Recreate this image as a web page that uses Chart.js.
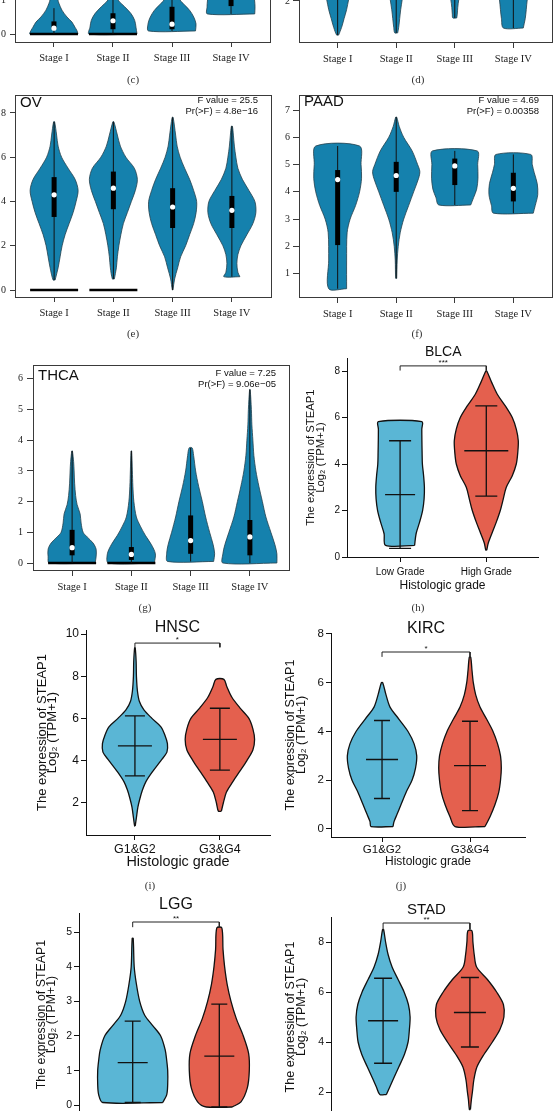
<!DOCTYPE html>
<html lang="en">
<head>
<meta charset="UTF-8">
<title>STEAP1 expression by stage and histologic grade</title>
<script src="https://cdn.jsdelivr.net/npm/chart.js"></script>
<style>
  body { margin: 0; background: #fff; }
  #page { position: relative; width: 556px; height: 1111px; overflow: hidden; background: #fff; }
  #page canvas { position: absolute; }
  .cap {
    position: absolute;
    font-family: "Liberation Serif", serif;
    font-size: 11px;
    color: #333;
    transform: translate(-50%, -50%);
    will-change: transform;
  }
</style>
</head>
<body>
<div id="page">
  <div class="cap" style="left:133px;top:79px">(c)</div>
  <div class="cap" style="left:418px;top:79px">(d)</div>
  <div class="cap" style="left:133px;top:333px">(e)</div>
  <div class="cap" style="left:417px;top:333px">(f)</div>
  <div class="cap" style="left:145px;top:607px">(g)</div>
  <div class="cap" style="left:418px;top:607px">(h)</div>
  <div class="cap" style="left:150px;top:885px">(i)</div>
  <div class="cap" style="left:401px;top:885px">(j)</div>
</div>

<script>
// ---- categories ----
const stages = ['Stage I', 'Stage II', 'Stage III', 'Stage IV'];
const gradesBLCA = ['Low Grade', 'High Grade'];
const gradesG = ['G1&G2', 'G3&G4'];
const gradesLGG = ['G2', 'G3'];
const gradesSTAD = ['G1&G2', 'G3'];

// ---- (c) only the bottom of this panel is visible ----
const cLevels = [
  [0, 0.1, 0.2, 0.35, 0.5, 0.7, 0.9, 1.0, 1.3, 1.7, 2.2],
  [0, 0.2, 0.4, 0.6, 0.8, 1.0, 1.2, 1.5, 2.0],
  [0.09, 0.3, 0.5, 0.7, 0.9, 1.0, 1.2, 1.5, 2.0],
  [0.59, 0.8, 1.0, 1.3, 1.6, 2.0, 2.5, 3.0, 3.5]
];
const cDensity = [
  [24, 23, 21, 18, 13, 8, 5, 4, 3, 2, 0.5],
  [24, 23, 21.7, 18, 11.7, 5, 3, 2, 0.5],
  [23.5, 24, 21.7, 17.5, 11, 8, 5, 3, 0.5],
  [23.7, 24, 23.5, 22, 18, 12, 6, 2, 0.5]
];
const cWhiskLo = [0, 0, 0.09, 0.59];
const cWhiskHi = [0.76, 1.5, 1.5, 2.5];
const cQ1 = [0.14, 0.14, 0.14, 0.82];
const cMedian = [0.17, 0.39, 0.29, 1.12];
const cQ3 = [0.37, 0.61, 0.8, 1.5];
const cZeroBar = [24, 24, 0, 0];

// ---- (d) only the bottom of this panel is visible ----
const dLevels = [
  [0.45, 0.8, 1.2, 1.6, 2.05, 2.5, 3, 4, 5, 6, 7],
  [0.55, 0.8, 1.2, 1.6, 2.05, 2.5, 3, 4, 5, 6, 7],
  [1.23, 1.4, 1.7, 2.05, 2.5, 3, 4, 5, 6, 7],
  [0.77, 1.2, 1.6, 2.05, 2.5, 3, 4, 5, 6, 7]
];
const dDensity = [
  [1, 4, 6.5, 9, 11, 13, 15, 16, 12, 5, 0.5],
  [1.5, 2.5, 3.5, 4.5, 6, 7.5, 9, 12, 10, 5, 0.5],
  [2, 2.5, 3, 4, 6, 9, 14, 12, 6, 0.5],
  [10, 12, 13, 14, 16, 19, 20, 14, 6, 0.5]
];
const dWhiskLo = [0.45, 0.55, 1.23, 0.77];
const dWhiskHi = [6, 6, 6, 6];
const dQ1 = [3, 3.2, 3.5, 3.3];
const dMedian = [3.6, 3.8, 4.1, 3.9];
const dQ3 = [4.3, 4.5, 4.7, 4.5];
const dZeroBar = [0, 0, 0, 0];

// ---- (e) OV ----
const ovLevels = [
  [0.45, 1, 1.5, 2, 2.5, 3, 3.5, 4, 4.5, 5, 5.5, 6, 6.5, 7, 7.6],
  [0.5, 1, 1.5, 2, 2.5, 3, 3.5, 4, 4.5, 5, 5.5, 6, 6.5, 7, 7.6],
  [0, 0.5, 1, 1.5, 2, 2.5, 3, 3.5, 4, 4.5, 5, 5.5, 6, 6.5, 7, 7.8],
  [0.6, 0.8, 1.2, 1.6, 2, 2.5, 3, 3.5, 4, 4.5, 5, 5.5, 6, 6.5, 7, 7.4]
];
const ovDensity = [
  [1, 4, 6, 8, 11, 15, 19, 22, 24, 21, 14, 7.5, 4, 2.5, 0.5],
  [1, 3, 4, 5.5, 7.5, 10, 14, 18, 22, 24, 21, 12.5, 7, 4, 0.5],
  [0.3, 2, 5, 8, 13, 17, 21, 23.5, 24, 21, 17, 12, 7.5, 4.5, 3, 0.5],
  [8, 6, 5, 6, 9, 15, 21, 24, 23, 17, 10.5, 6, 4, 2.5, 1.5, 0.5]
];
const ovWhiskLo = [0.45, 0.5, 0, 0.6];
const ovWhiskHi = [7.6, 7.6, 7.8, 7.4];
const ovQ1 = [3.3, 3.65, 2.8, 2.8];
const ovMedian = [4.3, 4.6, 3.75, 3.6];
const ovQ3 = [5.1, 5.35, 4.6, 4.25];
const ovZeroBar = [24, 24, 0, 0];

// ---- (f) PAAD ----
const paadLevels = [
  [0.45, 1.5, 2.5, 3, 3.5, 4, 4.5, 5, 5.68],
  [0.83, 1.5, 2, 2.5, 3, 3.5, 4, 4.5, 4.75, 5, 5.5, 6, 6.4, 6.74],
  [3.52, 3.8, 4.1, 4.5, 5, 5.5],
  [3.22, 3.5, 3.9, 4.3, 4.7, 5.0, 5.37]
];
const paadDensity = [
  [9, 9, 9.5, 12.5, 18, 22, 24, 23.5, 22],
  [0.5, 1, 2, 4, 7.5, 12.5, 17.5, 22.5, 23.7, 21.5, 16, 7.5, 3, 0.5],
  [16, 19, 22, 23.3, 23, 22.5],
  [20, 22, 24.5, 24, 21, 19, 17.5]
];
const paadWhiskLo = [0.45, 0.83, 3.52, 3.22];
const paadWhiskHi = [5.68, 6.74, 5.5, 5.37];
const paadQ1 = [2.05, 4.0, 4.25, 3.65];
const paadMedian = [4.45, 4.6, 4.95, 4.13];
const paadQ3 = [4.8, 5.1, 5.22, 4.7];
const paadZeroBar = [0, 0, 0, 0];

// ---- (g) THCA ----
const thcaLevels = [
  [0, 0.2, 0.45, 0.65, 0.85, 1.0, 1.3, 1.6, 1.9, 2.2, 2.6, 3.0, 3.3, 3.65],
  [0, 0.3, 0.6, 0.9, 1.2, 1.5, 2.0, 2.5, 3.0, 3.65],
  [0.05, 0.3, 0.6, 1.0, 1.5, 2.0, 2.5, 3.0, 3.5, 3.75],
  [0, 0.3, 0.6, 1.0, 1.5, 2.0, 2.5, 3.0, 3.5, 4.0, 4.5, 5.0, 5.65]
];
const thcaDensity = [
  [23, 24, 24, 21, 15, 11, 9, 8, 5, 3.5, 2.5, 2, 1.5, 0.3],
  [23, 24, 20, 14, 9, 5, 2.5, 1.5, 1, 0.3],
  [23, 24, 22.5, 19, 15, 11.7, 8, 5, 3, 1.5],
  [27, 27, 25, 21, 16, 12.5, 9, 6, 4, 3, 2, 1.5, 0.3]
];
const thcaWhiskLo = [0, 0, 0.05, 0];
const thcaWhiskHi = [3.65, 3.65, 3.75, 5.65];
const thcaQ1 = [0.25, 0.1, 0.3, 0.25];
const thcaMedian = [0.5, 0.28, 0.73, 0.85];
const thcaQ3 = [1.08, 0.52, 1.55, 1.4];
const thcaZeroBar = [24, 24, 0, 0];

// ---- (h) BLCA ----
const blcaLevels = [
  [0.5, 1, 1.5, 2, 2.5, 3, 3.5, 4, 4.5, 5, 5.5, 5.82],
  [0.3, 0.6, 1, 1.5, 2, 2.5, 3, 3.5, 4, 4.5, 5, 5.5, 6, 6.5, 7, 7.5, 8.0]
];
const blcaDensity = [
  [14.5, 16, 19.5, 22.5, 24, 24.3, 23.5, 22.3, 22, 21.8, 21.7, 21.7],
  [0.5, 2, 5.5, 10, 14, 17, 20, 26, 30, 31.5, 32, 30, 26, 19, 11, 5.5, 0.5]
];
const blcaLow = [0.37, 2.62];
const blcaMid = [2.68, 4.57];
const blcaHigh = [5.0, 6.5];
const blcaBracket = [8.02, 8.22];

// ---- (i) HNSC ----
const hnscLevels = [
  [0.9, 1.3, 1.8, 2.2, 2.6, 3, 3.5, 4, 4.4, 4.8, 5.2, 5.6, 6, 6.4, 6.8, 7.3, 8, 8.7, 9.35],
  [1.6, 2, 2.5, 3, 3.5, 4, 4.5, 5, 5.5, 6, 6.5, 7, 7.5, 7.85]
];
const hnscDensity = [
  [0.3, 1.5, 3, 5, 7.5, 11, 18, 26, 32, 32.5, 30, 26, 17, 9, 4.5, 2.5, 1.5, 1.2, 0.3],
  [1.5, 3.5, 6.5, 13, 20, 27, 33, 34.7, 33, 29, 20, 12, 7, 4]
];
const hnscLow = [3.27, 3.55];
const hnscMid = [4.7, 5.0];
const hnscHigh = [6.12, 6.48];
const hnscBracket = [9.37, 9.57];

// ---- (j) KIRC ----
const kircLevels = [
  [0.1, 0.3, 0.6, 1, 1.5, 2, 2.5, 3, 3.5, 4, 4.5, 5, 5.5, 6],
  [0.1, 0.5, 1, 1.5, 2, 2.5, 3, 3.5, 4, 4.5, 5, 5.5, 6, 6.5, 7.05]
];
const kircDensity = [
  [11, 12, 15, 19, 24, 30, 33.5, 34.7, 32, 26, 17, 8, 4, 0.7],
  [15, 20, 25, 28.7, 30.5, 31.3, 30.5, 27.5, 23, 16.7, 10, 5.7, 3.3, 2, 0.7]
];
const kircLow = [1.25, 0.75];
const kircMid = [2.85, 2.6];
const kircHigh = [4.45, 4.42];
const kircBracket = [7.06, 7.26];

// ---- LGG ----
const lggLevels = [
  [0.08, 0.3, 0.6, 1, 1.3, 1.6, 2, 2.3, 2.6, 3, 3.5, 4, 4.82],
  [-0.05, 0.1, 0.5, 1, 1.5, 2, 2.5, 3, 3.5, 4, 4.5, 5.12]
];
const lggDensity = [
  [30, 34, 35, 35, 34, 32.5, 28, 20, 12, 7, 3.7, 1.5, 0.5],
  [13, 21.7, 28, 30, 29.3, 24, 17, 11.7, 7.8, 5.3, 3.7, 2.5]
];
const lggLow = [0.08, -0.05];
const lggMid = [1.23, 1.42];
const lggHigh = [2.43, 2.92];
const lggBracket = [5.14, 5.29];

// ---- STAD ----
const stadLevels = [
  [1.9, 2.2, 2.5, 3, 3.5, 4, 4.5, 5, 5.5, 6, 6.5, 7, 7.5, 8, 8.5],
  [1.3, 1.7, 2, 2.5, 3, 3.5, 4, 4.5, 5, 5.5, 6, 6.5, 7, 7.5, 8, 8.45]
];
const stadDensity = [
  [3.3, 6.7, 10, 15.7, 21.3, 25, 26.3, 27, 25.3, 21, 15, 9, 5, 2.5, 0.5],
  [0.5, 1.5, 2.5, 4, 7, 14, 22.5, 30, 34, 33.5, 26.7, 17.5, 6.7, 4.3, 3, 2]
];
const stadLow = [3.15, 3.8];
const stadMid = [4.85, 5.18];
const stadHigh = [6.55, 6.58];
const stadBracket = [8.5, 8.76];

// ---- drawing ----
const R_BLUE = '#1581ad';
const G_FILLS = ['#5ab6d5', '#e4604e'];

Chart.defaults.font.family = '"Liberation Sans", Arial, sans-serif';
Chart.defaults.color = '#111';

// free text anchored to the plot area or to data values
const panelText = {
  id: 'panelText',
  afterDatasetsDraw(chart, args, opts) {
    const a = chart.chartArea, ctx = chart.ctx;
    (opts.items || []).forEach(it => {
      let x, y;
      if (it.xv !== undefined) x = chart.scales.x.getPixelForValue(it.xv);
      else x = it.dx >= 0 ? a.left + it.dx : a.right + it.dx;
      if (it.yv !== undefined) y = chart.scales.y.getPixelForValue(it.yv) + (it.dy || 0);
      else y = a.top + it.dy;
      ctx.save();
      ctx.font = it.font;
      ctx.fillStyle = '#111';
      ctx.textAlign = it.align || 'center';
      ctx.textBaseline = 'middle';
      ctx.fillText(it.text, x, y);
      ctx.restore();
    });
  }
};
Chart.register(panelText);

function mount(id, box) {
  const cv = document.createElement('canvas');
  cv.id = id;
  cv.width = box.w;
  cv.height = box.h;
  cv.style.left = box.x + 'px';
  cv.style.top = box.y + 'px';
  cv.style.width = box.w + 'px';
  cv.style.height = box.h + 'px';
  document.getElementById('page').appendChild(cv);
  return cv;
}

function violin(c, levels, dens, k) {
  const right = levels.map((v, i) => ({x: c + dens[i] * k, y: v}));
  const left = levels.map((v, i) => ({x: c - dens[i] * k, y: v})).reverse();
  return right.concat(left, [right[0]]);
}

function errorBar(c, lo, mid, hi, cap, med) {
  const gap = {x: c, y: null};
  return [
    {x: c - cap, y: lo}, {x: c + cap, y: lo}, gap,
    {x: c, y: lo}, {x: c, y: hi}, gap,
    {x: c - cap, y: hi}, {x: c + cap, y: hi}, gap,
    {x: c - med, y: mid}, {x: c + med, y: mid}
  ];
}

function baseOptions(p, items) {
  return {
    responsive: false,
    animation: false,
    events: [],
    layout: {padding: {left: 0, bottom: 0, top: p.plot.t - p.canvas.y, right: p.canvas.x + p.canvas.w - p.plot.r}},
    elements: {point: {radius: 0}},
    plugins: {legend: {display: false}, tooltip: {enabled: false}, panelText: {items: items}}
  };
}

function xAxis(p, s) {
  return {
    type: 'linear', position: 'bottom', min: p.xMin, max: p.xMax,
    afterBuildTicks: sc => { sc.ticks = p.cats.map((c, i) => ({value: i + 1})); },
    afterFit: sc => { sc.height = p.canvas.y + p.canvas.h - p.plot.b; },
    grid: {display: true, drawOnChartArea: false, drawTicks: true, tickLength: s.tickLen, tickColor: s.line, tickWidth: 1},
    border: {display: true, color: s.line, width: 1},
    ticks: {autoSkip: false, maxRotation: 0, padding: s.xPad, color: s.text, font: s.xFont,
            callback: v => p.cats[v - 1]},
    title: s.xTitle || {display: false}
  };
}

function yAxis(p, s) {
  return {
    type: 'linear', position: 'left', min: p.yMin, max: p.yMax,
    afterBuildTicks: sc => { sc.ticks = p.yTicks.map(v => ({value: v})); },
    afterFit: sc => { sc.width = p.plot.l - p.canvas.x; },
    grid: {display: true, drawOnChartArea: false, drawTicks: true, tickLength: s.tickLen, tickColor: s.line, tickWidth: 1},
    border: {display: true, color: s.line, width: 1},
    ticks: {padding: s.yPad, color: s.text, font: s.yFont},
    title: s.yTitle || {display: false}
  };
}

// base-R style vioplot panel with a full frame
function rPanel(id, p) {
  const cv = mount(id, p.canvas);
  const k = (p.xMax - p.xMin) / (p.plot.r - p.plot.l);
  const ds = [];
  p.levels.forEach((lv, i) => {
    const c = i + 1;
    ds.push({data: violin(c, lv, p.density[i], k), backgroundColor: R_BLUE, borderColor: '#24404c',
             borderWidth: 0.8, fill: 'shape', tension: 0.3, order: 5});
    if (p.zero[i] > 0) {
      ds.push({data: [{x: c - p.zero[i] * k, y: 0}, {x: c + p.zero[i] * k, y: 0}],
               borderColor: '#000', borderWidth: 2.5, order: 4});
    }
    ds.push({data: [{x: c, y: p.lo[i]}, {x: c, y: p.hi[i]}], borderColor: '#111', borderWidth: 1, order: 3});
    ds.push({data: [{x: c, y: p.q1[i]}, {x: c, y: p.q3[i]}], borderColor: '#000', borderWidth: 5, order: 2});
    ds.push({data: [{x: c, y: p.median[i]}], showLine: false, pointRadius: 2.6,
             pointBackgroundColor: '#fff', pointBorderWidth: 0, order: 1});
  });
  const style = {
    line: '#3a3a3a', text: '#222', tickLen: p.tickLen || 5,
    xPad: 5, yPad: p.yPad || 4,
    xFont: {family: '"Liberation Serif", serif', size: 10.5},
    yFont: {family: '"Liberation Serif", serif', size: 10}
  };
  const items = [];
  if (p.title) {
    items.push({text: p.title, font: '15px "Liberation Sans"', align: 'left', dx: 5, dy: p.textDy[0]});
    items.push({text: p.fText, font: '9.5px "Liberation Sans"', align: 'right', dx: -13, dy: p.textDy[1]});
    items.push({text: p.prText, font: '9.5px "Liberation Sans"', align: 'right', dx: -13, dy: p.textDy[2]});
  }
  const opts = baseOptions(p, items);
  opts.scales = {
    x: xAxis(p, style),
    y: yAxis(p, style),
    xTop: {type: 'linear', position: 'top', display: true, grid: {display: false}, ticks: {display: false},
           border: {display: true, color: style.line, width: 1}, afterFit: sc => { sc.height = 0; }},
    yRight: {type: 'linear', position: 'right', display: true, grid: {display: false}, ticks: {display: false},
             border: {display: true, color: style.line, width: 1}, afterFit: sc => { sc.width = 0; }}
  };
  new Chart(cv, {type: 'line', data: {datasets: ds}, options: opts});
}

// ggplot style panel: two violins, error bars and a significance bracket
function gPanel(id, p) {
  const cv = mount(id, p.canvas);
  const k = (p.xMax - p.xMin) / (p.plot.r - p.plot.l);
  const ds = [];
  p.levels.forEach((lv, i) => {
    const c = i + 1;
    ds.push({data: violin(c, lv, p.density[i], k), backgroundColor: G_FILLS[i], borderColor: '#111',
             borderWidth: 1.3, fill: 'shape', tension: 0.3, order: 3});
    ds.push({data: errorBar(c, p.low[i], p.mid[i], p.high[i], p.cap * k, p.med[i] * k),
             borderColor: '#111', borderWidth: 1.3, order: 2});
  });
  ds.push({data: [{x: 1, y: p.bracket[0]}, {x: 1, y: p.bracket[1]}, {x: 2, y: p.bracket[1]}, {x: 2, y: p.bracket[0]}],
           borderColor: '#222', borderWidth: 1, order: 1});
  const f = p.fonts;
  const yLine = f.yTitle * f.yTitleLH;
  const style = {
    line: '#111', text: '#111', tickLen: 5, xPad: f.xPad, yPad: 2,
    xFont: {size: f.xLab}, yFont: {size: f.tick},
    xTitle: {display: true, text: 'Histologic grade', padding: 0, color: '#111', font: {size: f.xTitle, lineHeight: 1.2}},
    yTitle: {display: true, text: ['The expression of STEAP1', 'Log\u2082 (TPM+1)'], color: '#111',
             padding: {top: p.yTitleX - p.canvas.x - yLine / 2, bottom: 0},
             font: {size: f.yTitle, lineHeight: f.yTitleLH}}
  };
  const items = [
    {text: p.title, font: f.title + 'px "Liberation Sans"', xv: 1.5, dy: p.titleDy},
    {text: p.stars, font: '8px "Liberation Sans"', xv: 1.5, yv: p.bracket[1], dy: -3}
  ];
  const opts = baseOptions(p, items);
  opts.scales = {x: xAxis(p, style), y: yAxis(p, style)};
  new Chart(cv, {type: 'line', data: {datasets: ds}, options: opts});
}

rPanel('c', {
  canvas: {x: 0, y: -170, w: 278, h: 240}, plot: {l: 15, t: -160, r: 270, b: 42},
  xMin: 0.34, xMax: 4.66, yMin: -0.235, yMax: 5.7, yTicks: [0, 1, 2, 3, 4, 5], cats: stages,
  levels: cLevels, density: cDensity, lo: cWhiskLo, hi: cWhiskHi, q1: cQ1, median: cMedian, q3: cQ3, zero: cZeroBar
});
rPanel('d', {
  canvas: {x: 278, y: -170, w: 278, h: 240}, plot: {l: 299, t: -160, r: 554, b: 42},
  xMin: 0.34, xMax: 4.66, yMin: 0.136, yMax: 9.3, yTicks: [2, 4, 6, 8], cats: stages, tickLen: 6, yPad: 3,
  levels: dLevels, density: dDensity, lo: dWhiskLo, hi: dWhiskHi, q1: dQ1, median: dMedian, q3: dQ3, zero: dZeroBar
});
rPanel('ov', {
  canvas: {x: 0, y: 85, w: 278, h: 240}, plot: {l: 15, t: 95, r: 271, b: 297},
  xMin: 0.34, xMax: 4.66, yMin: -0.316, yMax: 8.81, yTicks: [0, 2, 4, 6, 8], cats: stages,
  levels: ovLevels, density: ovDensity, lo: ovWhiskLo, hi: ovWhiskHi, q1: ovQ1, median: ovMedian, q3: ovQ3, zero: ovZeroBar,
  title: 'OV', fText: 'F value = 25.5', prText: 'Pr(>F) = 4.8e\u221216', textDy: [8, 5, 16]
});
rPanel('paad', {
  canvas: {x: 278, y: 85, w: 278, h: 240}, plot: {l: 299, t: 95, r: 553, b: 297},
  xMin: 0.34, xMax: 4.66, yMin: 0.147, yMax: 7.55, yTicks: [1, 2, 3, 4, 5, 6, 7], cats: stages, tickLen: 6, yPad: 3,
  levels: paadLevels, density: paadDensity, lo: paadWhiskLo, hi: paadWhiskHi, q1: paadQ1, median: paadMedian, q3: paadQ3, zero: paadZeroBar,
  title: 'PAAD', fText: 'F value = 4.69', prText: 'Pr(>F) = 0.00358', textDy: [7, 5, 16]
});
rPanel('thca', {
  canvas: {x: 0, y: 355, w: 295, h: 240}, plot: {l: 33, t: 365, r: 289, b: 570},
  xMin: 0.34, xMax: 4.66, yMin: -0.228, yMax: 6.45, yTicks: [0, 1, 2, 3, 4, 5, 6], cats: stages, tickLen: 6, yPad: 4,
  levels: thcaLevels, density: thcaDensity, lo: thcaWhiskLo, hi: thcaWhiskHi, q1: thcaQ1, median: thcaMedian, q3: thcaQ3, zero: thcaZeroBar,
  title: 'THCA', fText: 'F value = 7.25', prText: 'Pr(>F) = 9.06e\u221205', textDy: [10.5, 8.5, 19.5]
});

gPanel('blca', {
  canvas: {x: 298, y: 338, w: 258, h: 255}, plot: {l: 347, t: 358, r: 538, b: 557}, yTitleX: 311,
  xMin: 0.384, xMax: 2.6, yMin: 0, yMax: 8.56, yTicks: [0, 2, 4, 6, 8], cats: gradesBLCA,
  levels: blcaLevels, density: blcaDensity, low: blcaLow, mid: blcaMid, high: blcaHigh, bracket: blcaBracket,
  cap: 11, med: [15, 22], title: 'BLCA', titleDy: -6, stars: '***',
  fonts: {tick: 10, xLab: 10, xPad: 4, xTitle: 12, yTitle: 11.3, yTitleLH: 0.9, title: 14}
});
gPanel('hnsc', {
  canvas: {x: 28, y: 612, w: 249, h: 259}, plot: {l: 86, t: 630, r: 270, b: 835}, yTitleX: 42,
  xMin: 0.424, xMax: 2.59, yMin: 0.47, yMax: 10.19, yTicks: [2, 4, 6, 8, 10], cats: gradesG,
  levels: hnscLevels, density: hnscDensity, low: hnscLow, mid: hnscMid, high: hnscHigh, bracket: hnscBracket,
  cap: 10, med: [17, 17], title: 'HNSC', titleDy: -2, stars: '*',
  fonts: {tick: 12, xLab: 12.5, xPad: 2, xTitle: 14.4, yTitle: 13, yTitleLH: 0.8, title: 16}
});
gPanel('kirc', {
  canvas: {x: 278, y: 612, w: 278, h: 257}, plot: {l: 331, t: 633, r: 525, b: 837}, yTitleX: 291,
  xMin: 0.42, xMax: 2.625, yMin: -0.33, yMax: 8.04, yTicks: [0, 2, 4, 6, 8], cats: gradesG,
  levels: kircLevels, density: kircDensity, low: kircLow, mid: kircMid, high: kircHigh, bracket: kircBracket,
  cap: 8, med: [16, 16], title: 'KIRC', titleDy: -4, stars: '*',
  fonts: {tick: 11.5, xLab: 11.5, xPad: 1, xTitle: 12, yTitle: 12.5, yTitleLH: 0.85, title: 16}
});
gPanel('lgg', {
  canvas: {x: 28, y: 890, w: 249, h: 250}, plot: {l: 79, t: 913, r: 273, b: 1116}, yTitleX: 42,
  xMin: 0.38, xMax: 2.62, yMin: -0.31, yMax: 5.55, yTicks: [0, 1, 2, 3, 4, 5], cats: gradesLGG,
  levels: lggLevels, density: lggDensity, low: lggLow, mid: lggMid, high: lggHigh, bracket: lggBracket,
  cap: 8, med: [15, 15], title: 'LGG', titleDy: -8, stars: '**',
  fonts: {tick: 10.5, xLab: 12, xPad: 2, xTitle: 13, yTitle: 12.4, yTitleLH: 0.8, title: 16}
});
gPanel('stad', {
  canvas: {x: 278, y: 895, w: 278, h: 260}, plot: {l: 331, t: 917, r: 522, b: 1117}, yTitleX: 291,
  xMin: 0.4, xMax: 2.6, yMin: 1.0, yMax: 9.0, yTicks: [2, 4, 6, 8], cats: gradesSTAD,
  levels: stadLevels, density: stadDensity, low: stadLow, mid: stadMid, high: stadHigh, bracket: stadBracket,
  cap: 9, med: [15, 16], title: 'STAD', titleDy: -7, stars: '**',
  fonts: {tick: 10.5, xLab: 12, xPad: 2, xTitle: 13, yTitle: 12.5, yTitleLH: 0.85, title: 15}
});
</script>
</body>
</html>
